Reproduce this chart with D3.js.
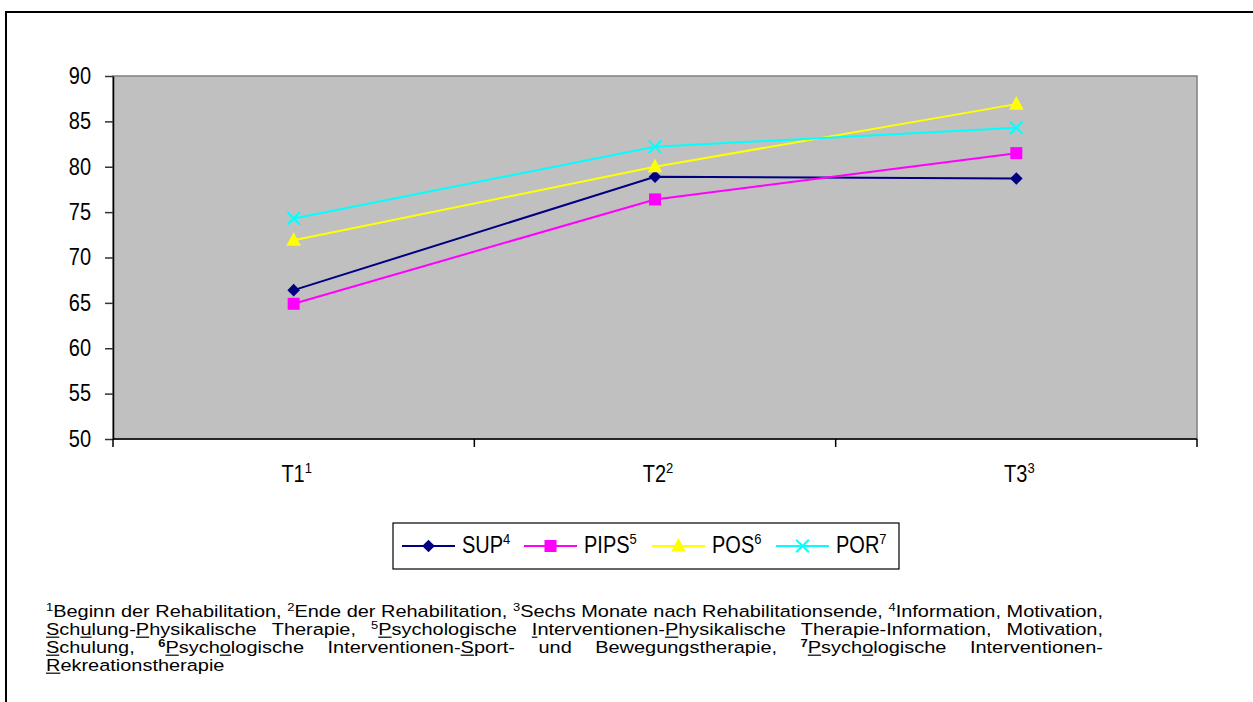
<!DOCTYPE html>
<html>
<head>
<meta charset="utf-8">
<script src="https://cdn.jsdelivr.net/npm/d3@7"></script>
<style>
  html, body { margin: 0; padding: 0; background: #fff; }
  svg { display: block; font-family: "Liberation Sans", Arial, sans-serif; }
</style>
</head>
<body>
<svg id="chart" width="1253" height="702"></svg>
<script>
// Measurement points and their footnote numbers
const categories = ["T1", "T2", "T3"];
const categoryNotes = ["1", "2", "3"];

// Group names and footnote numbers
const seriesNames = ["SUP", "PIPS", "POS", "POR"];
const seriesNotes = ["4", "5", "6", "7"];

// Mean scores per group at T1, T2, T3
const supValues  = [66.4, 78.9, 78.7];
const pipsValues = [64.9, 76.4, 81.5];
const posValues  = [71.9, 80.0, 86.9];
const porValues  = [74.3, 82.2, 84.3];

// Y axis ticks
const yTicks = [50, 55, 60, 65, 70, 75, 80, 85, 90];

// Footnote lines: {n} superscript, {*n} bold superscript, [x] underlined
const footnoteLines = [
  "{1}Beginn der Rehabilitation, {2}Ende der Rehabilitation, {3}Sechs Monate nach Rehabilitationsende, {4}Information, Motivation,",
  "[S]ch[u]lung-[P]hysikalische Therapie, {5}[P]sychologische [I]nterventionen-[P]hysikalische Therapie-Information, Motivation,",
  "[S]chulung, {*6}[P]sych[o]logische Interventionen-[S]port- und Bewegungstherapie, {*7}[P]sych[o]logische Interventionen-",
  "[R]ekreationstherapie"
];

const seriesValues = [supValues, pipsValues, posValues, porValues];
const colors = ["#000080", "#FF00FF", "#FFFF00", "#00FFFF"];
const symbols = ["diamond", "square", "triangle", "cross"];

const svg = d3.select("#chart");
const chartFont = 20;   // chart text size
const supFont = 13;     // footnote markers in the chart
const stretchY = 1.15;  // chart glyphs are taller than wide

// Outer frame
svg.append("rect")
  .attr("x", 6).attr("y", 12).attr("width", 1300).attr("height", 760)
  .attr("fill", "none").attr("stroke", "#000").attr("stroke-width", 2);

const plot = { left: 113, right: 1197, top: 76, bottom: 439 };

const x = d3.scaleBand().domain(categories).range([plot.left, plot.right]);
const y = d3.scaleLinear().domain([50, 90]).range([plot.bottom, plot.top]);

// Plot background
svg.append("rect")
  .attr("x", plot.left).attr("y", plot.top)
  .attr("width", plot.right - plot.left).attr("height", plot.bottom - plot.top)
  .attr("fill", "#C0C0C0").attr("stroke", "#808080").attr("stroke-width", 1.5);

// Y axis
const yAxis = svg.append("g")
  .attr("transform", `translate(${plot.left},0)`)
  .call(d3.axisLeft(y).tickValues(yTicks).tickSize(8).tickPadding(14).tickSizeOuter(0));
yAxis.select(".domain").attr("stroke", "#000").attr("stroke-width", 1.5);
yAxis.selectAll(".tick line").attr("stroke", "#333").attr("stroke-width", 1.5);
yAxis.selectAll(".tick text")
  .attr("font-size", chartFont).attr("fill", "#000")
  .attr("font-family", "Liberation Sans, Arial, sans-serif")
  .attr("transform", `scale(1,${stretchY})`);

// X axis: ticks at category boundaries
const xAxisG = svg.append("g").attr("transform", `translate(0,${plot.bottom})`);
xAxisG.append("line")
  .attr("x1", plot.left).attr("x2", plot.right)
  .attr("stroke", "#000").attr("stroke-width", 1.5);
const boundaries = categories.map(c => x(c)).concat([x(categories[categories.length - 1]) + x.bandwidth()]);
xAxisG.selectAll("line.tk").data(boundaries).join("line")
  .attr("class", "tk")
  .attr("x1", d => d).attr("x2", d => d)
  .attr("y1", 0).attr("y2", 8)
  .attr("stroke", "#000").attr("stroke-width", 1.5);

const xLabels = svg.append("g").selectAll("text").data(categories).join("text")
  .attr("transform", d => `translate(${x(d) + x.bandwidth() / 2 + 3},482) scale(1,${stretchY})`)
  .attr("text-anchor", "middle")
  .attr("font-size", chartFont);
xLabels.append("tspan").text(d => d);
xLabels.append("tspan")
  .attr("font-size", supFont).attr("dy", -8)
  .text((d, i) => categoryNotes[i]);

// Marker path generator
function markerPath(kind, s) {
  if (kind === "diamond") return `M0,${-s}L${s},0L0,${s}L${-s},0Z`;
  if (kind === "square") return `M${-s},${-s}H${s}V${s}H${-s}Z`;
  if (kind === "triangle") return `M0,${-s * 1.15}L${s * 1.05},${s * 0.8}L${-s * 1.05},${s * 0.8}Z`;
  return `M${-s},${-s}L${s},${s}M${-s},${s}L${s},${-s}`;
}
const markerSize = [6.3, 6, 7, 6.3];

function drawMarker(g, i, cx, cy) {
  const p = g.append("path")
    .attr("transform", `translate(${cx},${cy})`)
    .attr("d", markerPath(symbols[i], markerSize[i]));
  if (symbols[i] === "cross") p.attr("fill", "none").attr("stroke", colors[i]).attr("stroke-width", 2);
  else p.attr("fill", colors[i]).attr("stroke", "none");
}

const line = d3.line().x((d, j) => x(categories[j]) + x.bandwidth() / 2).y(d => y(d));

const seriesG = svg.append("g");
seriesValues.forEach((vals, i) => {
  const g = seriesG.append("g");
  g.append("path").datum(vals)
    .attr("d", line)
    .attr("fill", "none").attr("stroke", colors[i]).attr("stroke-width", 2);
  vals.forEach((v, j) => drawMarker(g, i, x(categories[j]) + x.bandwidth() / 2, y(v)));
});

// Legend
const legend = svg.append("g");
legend.append("rect")
  .attr("x", 393).attr("y", 523).attr("width", 506).attr("height", 46)
  .attr("fill", "#fff").attr("stroke", "#000").attr("stroke-width", 1.2);
const legendX = [402, 524, 652, 776];
seriesNames.forEach((name, i) => {
  const lx = legendX[i], ly = 546;
  legend.append("line")
    .attr("x1", lx).attr("x2", lx + 53).attr("y1", ly).attr("y2", ly)
    .attr("stroke", colors[i]).attr("stroke-width", 2);
  drawMarker(legend, i, lx + 26.5, ly);
  const t = legend.append("text")
    .attr("transform", `translate(${lx + 60},${ly + 7}) scale(1,${stretchY})`)
    .attr("font-size", chartFont);
  t.append("tspan").text(name);
  t.append("tspan").attr("font-size", supFont).attr("dy", -8).text(seriesNotes[i]);
});

// Footnotes, justified between left and right margins
function parseSegments(word) {
  const segs = [];
  const re = /\{(\*?)(\d+)\}|\[(.)\]|([^{\[]+)/g;
  let m;
  while ((m = re.exec(word)) !== null) {
    if (m[2] !== undefined) segs.push({ t: m[2], sup: true, bold: m[1] === "*" });
    else if (m[3] !== undefined) segs.push({ t: m[3], u: true });
    else segs.push({ t: m[4] });
  }
  return segs;
}

const fnLeft = 46, fnRight = 1103, fnFont = 16.5;
const fnBaselines = [617, 635, 653, 671];
const fnG = svg.append("g");

function buildWords(ln) {
  return ln.split(" ").map(w => {
    const g = fnG.append("g");
    let cx = 0;
    parseSegments(w).forEach(s => {
      const t = g.append("text")
        .attr("x", cx)
        .attr("y", s.sup ? -fnFont * 0.37 : 0)
        .attr("font-size", s.sup ? fnFont * 0.65 : fnFont)
        .attr("font-weight", s.bold ? "bold" : null)
        .text(s.t);
      const wdt = t.node().getComputedTextLength();
      if (s.u) {
        g.append("line")
          .attr("x1", cx).attr("x2", cx + wdt)
          .attr("y1", 2.2).attr("y2", 2.2)
          .attr("stroke", "#000").attr("stroke-width", 1.2);
      }
      cx += wdt;
    });
    return { g, w: cx };
  });
}

// The first line runs at natural word spacing: widen the glyphs so it fills the width
const probe = buildWords(footnoteLines[0]);
const probeWidth = d3.sum(probe, d => d.w) + (probe.length - 1) * fnFont * 0.278;
probe.forEach(d => d.g.remove());
const fnScaleX = (fnRight - fnLeft) / probeWidth;

footnoteLines.forEach((ln, li) => {
  const wordGroups = buildWords(ln);
  wordGroups.forEach(d => { d.w *= fnScaleX; });
  const total = d3.sum(wordGroups, d => d.w);
  const isLast = li === footnoteLines.length - 1;
  const spaceW = isLast ? fnFont * 0.278 * fnScaleX : (fnRight - fnLeft - total) / (wordGroups.length - 1);
  let px = fnLeft;
  wordGroups.forEach(d => {
    d.g.attr("transform", `translate(${px},${fnBaselines[li]}) scale(${fnScaleX},1)`);
    px += d.w + spaceW;
  });
});
</script>
</body>
</html>
